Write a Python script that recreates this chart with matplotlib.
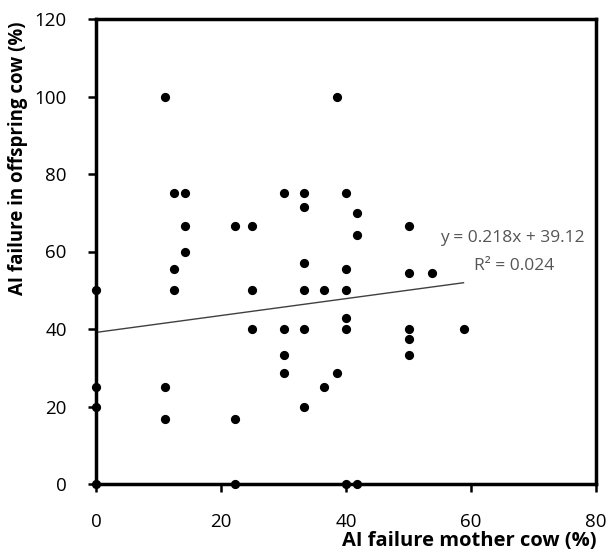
import matplotlib
matplotlib.use("Agg")
import matplotlib.pyplot as plt
import numpy as np

plt.rcParams['font.family'] = ['Open Sans', 'DejaVu Sans']

# Data
mother_failure = [0, 0, 0, 0, 11.1, 11.1, 11.1, 12.5, 12.5, 12.5, 14.3, 14.3, 14.3,
                  22.2, 22.2, 22.2, 25, 25, 25, 30, 30, 30, 30,
                  33.3, 33.3, 33.3, 33.3, 33.3, 33.3, 36.4, 36.4, 38.5, 38.5,
                  40, 40, 40, 40, 40, 40, 41.7, 41.7, 41.7,
                  50, 50, 50, 50, 50, 53.8, 58.8]
offspring_failure = [50, 25, 20, 0, 100, 25, 16.7, 75, 55.6, 50, 75, 66.7, 60,
                     66.7, 16.7, 0, 66.7, 50, 40, 75, 40, 33.3, 28.6,
                     75, 71.4, 57.1, 50, 40, 20, 50, 25, 100, 28.6,
                     75, 55.6, 50, 42.9, 40, 0, 70, 64.3, 0,
                     66.7, 54.5, 40, 37.5, 33.3, 54.5, 40]
slope = 0.218
intercept = 39.12
r_squared = 0.024
x_ticks = [0, 20, 40, 60, 80]
y_ticks = [0, 20, 40, 60, 80, 100, 120]
x_label = "AI failure mother cow (%)"
y_label = "AI failure in offspring cow (%)"

fig = plt.figure(figsize=(6.09, 5.50), dpi=100)
ax = fig.add_axes([96/609, 66/550, 500/609, 465/550])

ax.scatter(mother_failure, offspring_failure, s=44, color='black', zorder=3,
           clip_on=False, linewidths=0)

xl = np.array([0, max(mother_failure)])
ax.plot(xl, slope * xl + intercept, color='#404040', lw=1.0, zorder=2)

ax.set_xlim(0, 80)
ax.set_ylim(0, 120)
ax.set_xticks(x_ticks)
ax.set_yticks(y_ticks)
ax.tick_params(direction='out', length=6, width=1.8, labelsize=13.5,
               colors='black')
ax.tick_params(axis='x', pad=15)
ax.tick_params(axis='y', pad=15)
for sp in ax.spines.values():
    sp.set_linewidth(2.5)
    sp.set_color('black')

ax.text(0.978, 0.529, f"y = {slope}x + {intercept}", transform=ax.transAxes,
        ha='right', va='center', fontsize=12.5, color='#555555')
ax.text(0.916, 0.469, f"R² = {r_squared}", transform=ax.transAxes,
        ha='right', va='center', fontsize=12.5, color='#555555')

fig.text(18/609, 1 - 158/550, y_label, rotation=90, ha='center', va='center',
         fontsize=13.4, fontweight='bold')
fig.text(597/609, 1 - 541/550, x_label, ha='right', va='center',
         fontsize=14.5, fontweight='bold')

fig.savefig("out.png", dpi=100)
